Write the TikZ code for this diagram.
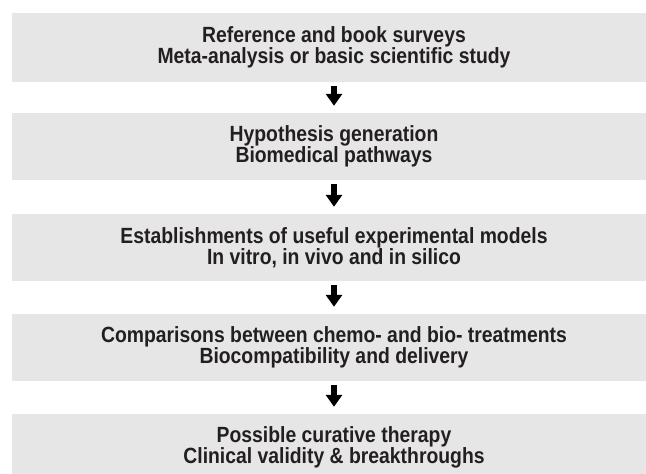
\documentclass[tikz,border=0pt]{standalone}
\usepackage{fontspec}
\setmainfont{Liberation Sans}[FakeStretch=0.88]
\usetikzlibrary{arrows.meta}
\definecolor{boxgray}{HTML}{E6E6E6}
\definecolor{inkgray}{HTML}{231F20}
\tikzset{
  stagebox/.style={fill=boxgray, draw=none, minimum width=644bp, inner sep=0pt,
    align=center, text=inkgray,
    font=\bfseries\fontsize{22bp}{21bp}\selectfont},
  flowarrow/.style={draw=black, line width=6bp, shorten <=4bp, shorten >=7bp,
    -{Triangle[width=16bp,length=12bp]}}
}
\begin{document}
\begin{tikzpicture}[x=1bp,y=-1bp]
  \useasboundingbox (0,0) rectangle (646,474);
  \begin{scope}
    \clip (0,0) rectangle (646,474);
    \node[stagebox, minimum height=69bp] (s1) at (334,47.5)
      {Reference and book surveys\\Meta-analysis or basic scientific study};
    \node[stagebox, minimum height=67bp] (s2) at (334,146.5)
      {Hypothesis generation\\Biomedical pathways};
    \node[stagebox, minimum height=67bp] (s3) at (334,247.5)
      {Establishments of useful experimental models\\In vitro, in vivo and in silico};
    \node[stagebox, minimum height=67bp] (s4) at (334,347.5)
      {Comparisons between chemo- and bio- treatments\\Biocompatibility and delivery};
    \node[stagebox, minimum height=67bp] (s5) at (334,447.5)
      {Possible curative therapy\\Clinical validity \& breakthroughs};
  \end{scope}
  \draw[flowarrow] (s1.south) -- (s2.north);
  \draw[flowarrow] (s2.south) -- (s3.north);
  \draw[flowarrow] (s3.south) -- (s4.north);
  \draw[flowarrow] (s4.south) -- (s5.north);
\end{tikzpicture}
\end{document}
